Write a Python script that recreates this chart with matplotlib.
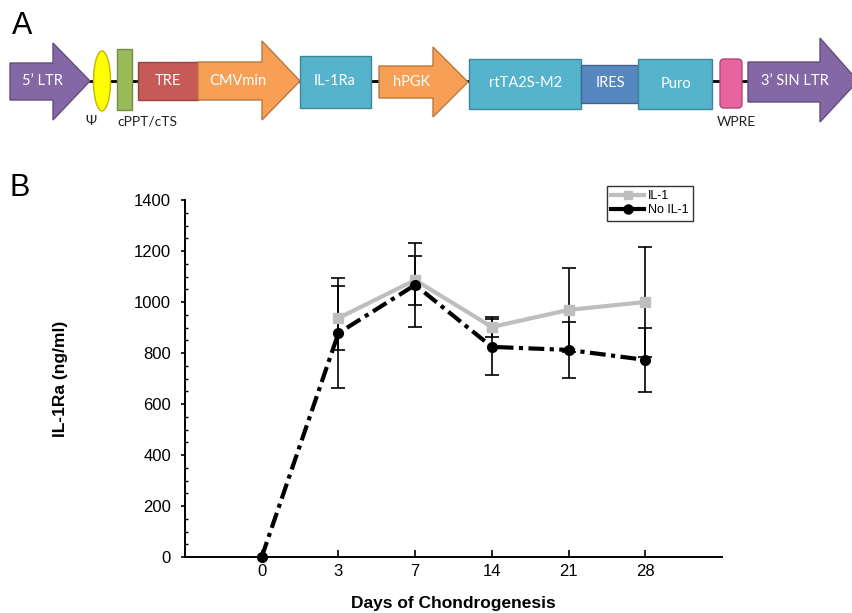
import numpy as np
import matplotlib
matplotlib.use('Agg')
import matplotlib.pyplot as plt
from matplotlib.patches import Polygon, Rectangle, Ellipse, FancyBboxPatch
from matplotlib.lines import Line2D
from matplotlib.ticker import MultipleLocator

# panel B data
days = ['0', '3', '7', '14', '21', '28']
no_il1_mean = [0, 878, 1067, 824, 812, 773]
no_il1_err = [0, 216, 165, 110, 110, 125]
il1_days = ['3', '7', '14', '21', '28']
il1_mean = [937, 1086, 902, 969, 1000]
il1_err = [125, 96, 40, 164, 217]

# panel A construct colours
purple, yellow, green = '#8468A6', '#FFFF00', '#9BBB59'
red, orange, teal, blue, pink = '#C65A57', '#F79F55', '#55B3CC', '#5687C0', '#E8649F'

plt.rcParams['font.family'] = ['Liberation Sans', 'DejaVu Sans']

fig = plt.figure(figsize=(8.53, 6.13), dpi=100)

# ---- panel A: drawn in pixel coordinates ----
ax_a = fig.add_axes([0, 0, 1, 1])
ax_a.set_xlim(0, 853)
ax_a.set_ylim(613, 0)
ax_a.axis('off')


def darker(c, f=0.75):
    r, g, b = matplotlib.colors.to_rgb(c)
    return (r * f, g * f, b * f)


def arrow(x0, xb, x1, yb0, yb1, yh0, yh1, yc, color):
    pts = [(x0, yb0), (xb, yb0), (xb, yh0), (x1, yc), (xb, yh1), (xb, yb1), (x0, yb1)]
    ax_a.add_patch(Polygon(pts, closed=True, fc=color, ec=darker(color), lw=1, zorder=3))


def box(x, y, w, h, color):
    ax_a.add_patch(Rectangle((x, y), w, h, fc=color, ec=darker(color), lw=1, zorder=3))


def label(x, y, s, color='white', size=10.5):
    ax_a.text(x, y, s, color=color, fontsize=size, ha='center', va='center',
              family=['Lato', 'DejaVu Sans'], zorder=5)


ax_a.plot([90, 750], [81, 81], color='black', lw=2, zorder=1)

arrow(10, 53, 90, 63, 100, 43, 120, 81, purple)
ax_a.add_patch(Ellipse((102, 81), 17, 60, fc=yellow, ec='#C8B400', lw=1, zorder=3))
box(117, 49, 15, 61, green)
box(138, 62, 60, 38, red)
arrow(198, 262, 300, 62, 100, 41, 120, 81, orange)
box(300, 56, 71, 52, teal)
arrow(379, 433, 468, 66, 98, 47, 117, 82, orange)
box(469, 59, 112, 50, teal)
box(581, 65, 57, 38, blue)
box(638, 59, 74, 50, teal)
ax_a.add_patch(FancyBboxPatch((720, 59), 22, 49, boxstyle='round,pad=0,rounding_size=4',
                              fc=pink, ec=darker(pink), lw=1, zorder=3))
arrow(748, 820, 858, 62, 102, 38, 122, 81, purple)

label(42, 81, '5\u2019 LTR')
label(168, 81, 'TRE')
label(238, 81, 'CMVmin')
label(335, 81, 'IL-1Ra')
label(412, 82, 'hPGK')
label(526, 83, 'rtTA2S-M2')
label(610, 83, 'IRES')
label(676, 84, 'Puro')
label(795, 81, '3\u2019 SIN LTR')
label(91, 121, '\u03a8', color='#222222', size=10)
label(147, 121, 'cPPT/cTS', color='#222222', size=10)
label(736, 122, 'WPRE', color='#222222', size=10)

fig.text(12 / 853, 1 - 26 / 613, 'A', fontsize=22, va='center')
fig.text(10 / 853, 1 - 188 / 613, 'B', fontsize=22, va='center')

# ---- panel B ----
ax = fig.add_axes([185 / 853, 56 / 613, 537 / 853, 357 / 613])
ax.set_facecolor('none')

eb_no = ax.errorbar(days, no_il1_mean, yerr=no_il1_err, color='black', lw=3,
                    marker='o', ms=7, ecolor='black', elinewidth=1.2,
                    capsize=5, capthick=1.2)
eb_no[0].set_dashes([3.8, 1.3, 1, 1.3])
eb_no[0].set_dash_capstyle('butt')
eb_no[0].set_zorder(5)
eb_no[0].set_clip_on(False)

eb_il = ax.errorbar(il1_days, il1_mean, yerr=il1_err, color='#BEBEBE', lw=3,
                    marker='s', ms=6.5, ecolor='black', elinewidth=1.2,
                    capsize=5, capthick=1.2)
eb_il[0].set_zorder(4)

for eb in (eb_no, eb_il):
    for c in eb[1]:
        c.set_zorder(2)
    for c in eb[2]:
        c.set_zorder(2)

ax.set_xlim(-1, 6)
ax.set_ylim(0, 1400)
ax.set_yticks(range(0, 1401, 200))
ax.yaxis.set_minor_locator(MultipleLocator(50))
ax.spines['top'].set_visible(False)
ax.spines['right'].set_visible(False)
ax.spines['left'].set_linewidth(1.4)
ax.spines['bottom'].set_linewidth(1.4)
ax.tick_params(axis='y', which='major', direction='out', length=3, width=1.2,
               labelsize=12, pad=7)
ax.tick_params(axis='y', which='minor', direction='in', length=2.5, width=1)
ax.tick_params(axis='x', direction='in', length=5, width=1.2, labelsize=12, pad=5)

ax.set_xlabel('Days of Chondrogenesis', fontsize=12.5, fontweight='bold')
ax.set_ylabel('IL-1Ra (ng/ml)', fontsize=12.5, fontweight='bold')
ax.xaxis.set_label_coords(0.5, -0.108)
ax.yaxis.set_label_coords(-0.218, 0.5)

handles = [Line2D([], [], color='#BEBEBE', lw=3, marker='s', ms=6),
           Line2D([], [], color='black', lw=3, marker='o', ms=6.5)]
leg = fig.legend(handles, ['IL-1', 'No IL-1'], loc='upper left',
                 bbox_to_anchor=(607 / 853, 1 - 186 / 613), fontsize=9,
                 frameon=True, fancybox=False, edgecolor='black', borderpad=0.35,
                 handlelength=2.6, handletextpad=0.3, labelspacing=0.15,
                 borderaxespad=0)
leg.get_frame().set_linewidth(1)

fig.savefig('out.png', dpi=100)
